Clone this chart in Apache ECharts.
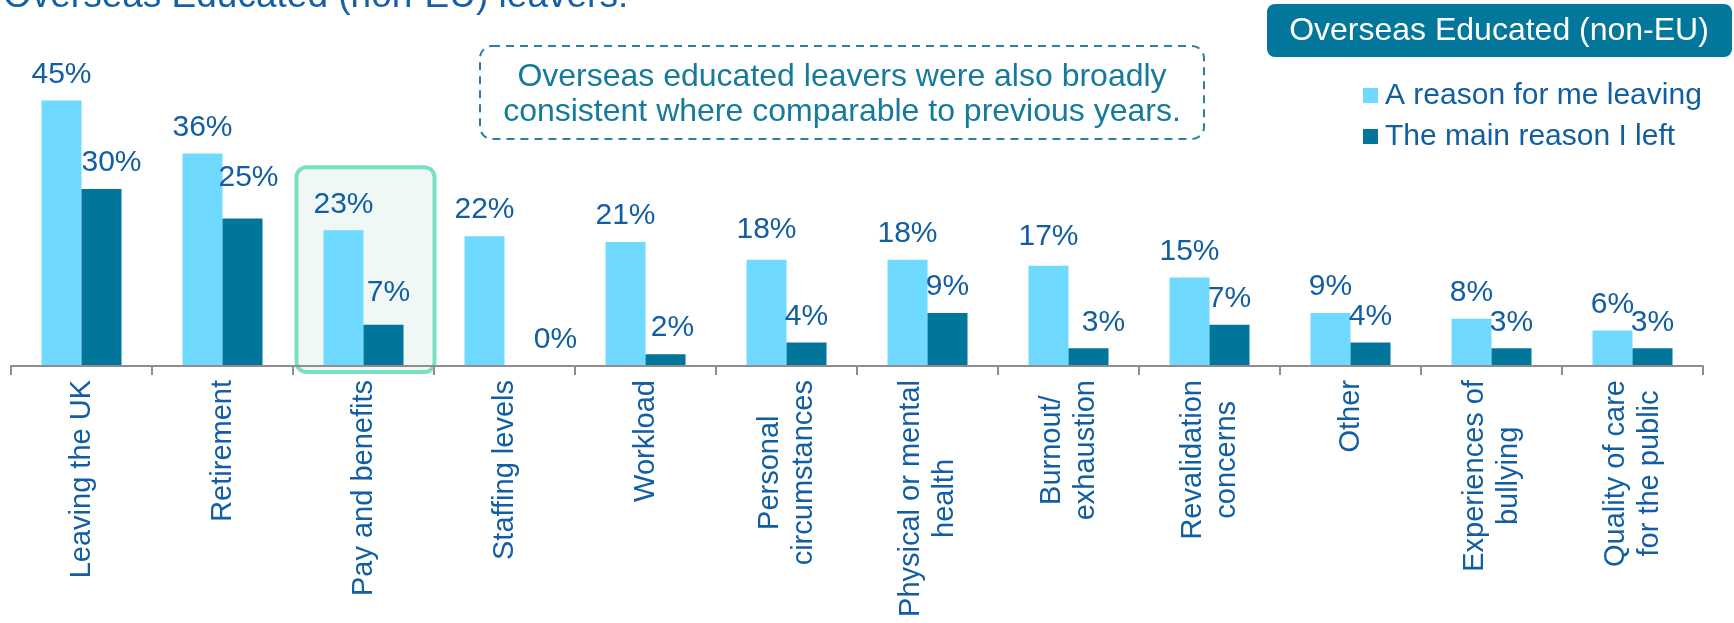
<!DOCTYPE html>
<html>
<head>
<meta charset="utf-8">
<script src="https://cdn.jsdelivr.net/npm/echarts@6/dist/echarts.min.js"></script>
<style>
  html, body { margin: 0; padding: 0; background: #ffffff; }
  #chart { width: 1734px; height: 623px; }
</style>
</head>
<body>
<div id="chart"></div>
<script>
// Reasons for leaving among overseas educated (non-EU) leavers, in percent
const categories = [
  'Leaving the UK',
  'Retirement',
  'Pay and benefits',
  'Staffing levels',
  'Workload',
  'Personal\ncircumstances',
  'Physical or mental\nhealth',
  'Burnout/\nexhaustion',
  'Revalidation\nconcerns',
  'Other',
  'Experiences of\nbullying',
  'Quality of care\nfor the public'
];
const aReasonValues = [45, 36, 23, 22, 21, 18, 18, 17, 15, 9, 8, 6];
const mainReasonValues = [30, 25, 7, 0, 2, 4, 9, 3, 7, 4, 3, 3];
const seriesNames = ['A reason for me leaving', 'The main reason I left'];

const FONT = '"Liberation Sans", Arial, sans-serif';
const LIGHT = '#70D9FF';
const DARK = '#01769A';
const TEXT_BLUE = '#125EA2';
const TEAL_TEXT = '#157A9B';

// small nudges for value labels that sit off-centre above their bars
const mainLabelNudge = { 0: [10, 0], 1: [6, -15], 2: [5, -6], 3: [31, 0], 4: [7, 0], 7: [15, 0] };
const reasonLabelNudge = { 5: [0, -4], 7: [0, -3] };

function withLabels(values, nudges) {
  return values.map((v, i) => {
    const item = { value: v };
    if (nudges[i]) item.label = { offset: nudges[i] };
    return item;
  });
}

const valueLabel = {
  show: true,
  position: 'top',
  distance: 11,
  formatter: p => p.value + '%',
  fontFamily: FONT,
  fontSize: 30,
  color: TEXT_BLUE
};

const chart = echarts.init(document.getElementById('chart'), null, { renderer: 'canvas' });

chart.setOption({
  backgroundColor: '#ffffff',
  animation: false,
  grid: { left: 11, right: 31, top: 71, bottom: 257, containLabel: false },
  legend: {
    orient: 'vertical',
    left: 1358,
    top: 75,
    itemWidth: 15,
    itemHeight: 15,
    itemGap: 10,
    icon: 'rect',
    data: seriesNames,
    textStyle: { fontFamily: FONT, fontSize: 30, color: TEXT_BLUE, lineHeight: 31, padding: [0, 0, 0, 2] }
  },
  xAxis: {
    type: 'category',
    data: categories,
    z: 3,
    axisLine: { lineStyle: { color: '#8E8E8E', width: 2 } },
    axisTick: { show: true, length: 9, lineStyle: { color: '#8E8E8E', width: 2 } },
    axisLabel: {
      interval: 0,
      rotate: 90,
      margin: 14,
      fontFamily: FONT,
      fontSize: 29,
      color: TEXT_BLUE,
      formatter: v => v.split('\n').map(s => '{c|' + s + '}').join('\n'),
      rich: {
        c: { align: 'center', fontFamily: FONT, fontSize: 29, color: TEXT_BLUE, lineHeight: 34 }
      }
    }
  },
  yAxis: {
    type: 'value',
    min: 0,
    max: 50,
    show: false,
    splitLine: { show: false }
  },
  series: [
    {
      name: seriesNames[0],
      type: 'bar',
      barWidth: 40,
      barGap: '0%',
      z: 2,
      itemStyle: { color: LIGHT },
      label: valueLabel,
      data: withLabels(aReasonValues, reasonLabelNudge)
    },
    {
      name: seriesNames[1],
      type: 'bar',
      barWidth: 40,
      barGap: '0%',
      z: 2,
      itemStyle: { color: DARK },
      label: valueLabel,
      data: withLabels(mainReasonValues, mainLabelNudge)
    }
  ]
});

// Highlight panel behind the "Pay and benefits" pair, placed from the axis scales
const payCenter = chart.convertToPixel({ xAxisIndex: 0 }, 2);
const boxTop = chart.convertToPixel({ yAxisIndex: 0 }, 33.7);
const baseY = chart.convertToPixel({ yAxisIndex: 0 }, 0);

chart.setOption({
  graphic: [
    {
      type: 'text',
      left: 3,
      top: -22,
      style: {
        text: 'Overseas Educated (non-EU) leavers:',
        font: '37px ' + FONT,
        fill: '#1560A3'
      }
    },
    {
      type: 'rect',
      z: -1,
      shape: { x: payCenter - 67, y: boxTop, width: 138, height: baseY + 6 - boxTop, r: 10 },
      style: { fill: '#EFF8F5', stroke: '#7ADFC5', lineWidth: 4 }
    },
    {
      type: 'group',
      children: [
        {
          type: 'rect',
          shape: { x: 480, y: 46, width: 724, height: 93, r: 12 },
          style: { fill: 'none', stroke: '#2C7F9E', lineWidth: 2, lineDash: [8, 6] }
        },
        {
          type: 'text',
          x: 842,
          y: 77,
          style: {
            text: 'Overseas educated leavers were also broadly',
            font: '32px ' + FONT,
            fill: TEAL_TEXT,
            align: 'center',
            verticalAlign: 'middle'
          }
        },
        {
          type: 'text',
          x: 842,
          y: 112,
          style: {
            text: 'consistent where comparable to previous years.',
            font: '32px ' + FONT,
            fill: TEAL_TEXT,
            align: 'center',
            verticalAlign: 'middle'
          }
        }
      ]
    },
    {
      type: 'group',
      children: [
        {
          type: 'rect',
          shape: { x: 1267, y: 4, width: 465, height: 53, r: 8 },
          style: { fill: '#02769B' }
        },
        {
          type: 'text',
          x: 1499,
          y: 31,
          style: {
            text: 'Overseas Educated (non-EU)',
            font: '32px ' + FONT,
            fill: '#ffffff',
            align: 'center',
            verticalAlign: 'middle'
          }
        }
      ]
    }
  ]
});
</script>
</body>
</html>
